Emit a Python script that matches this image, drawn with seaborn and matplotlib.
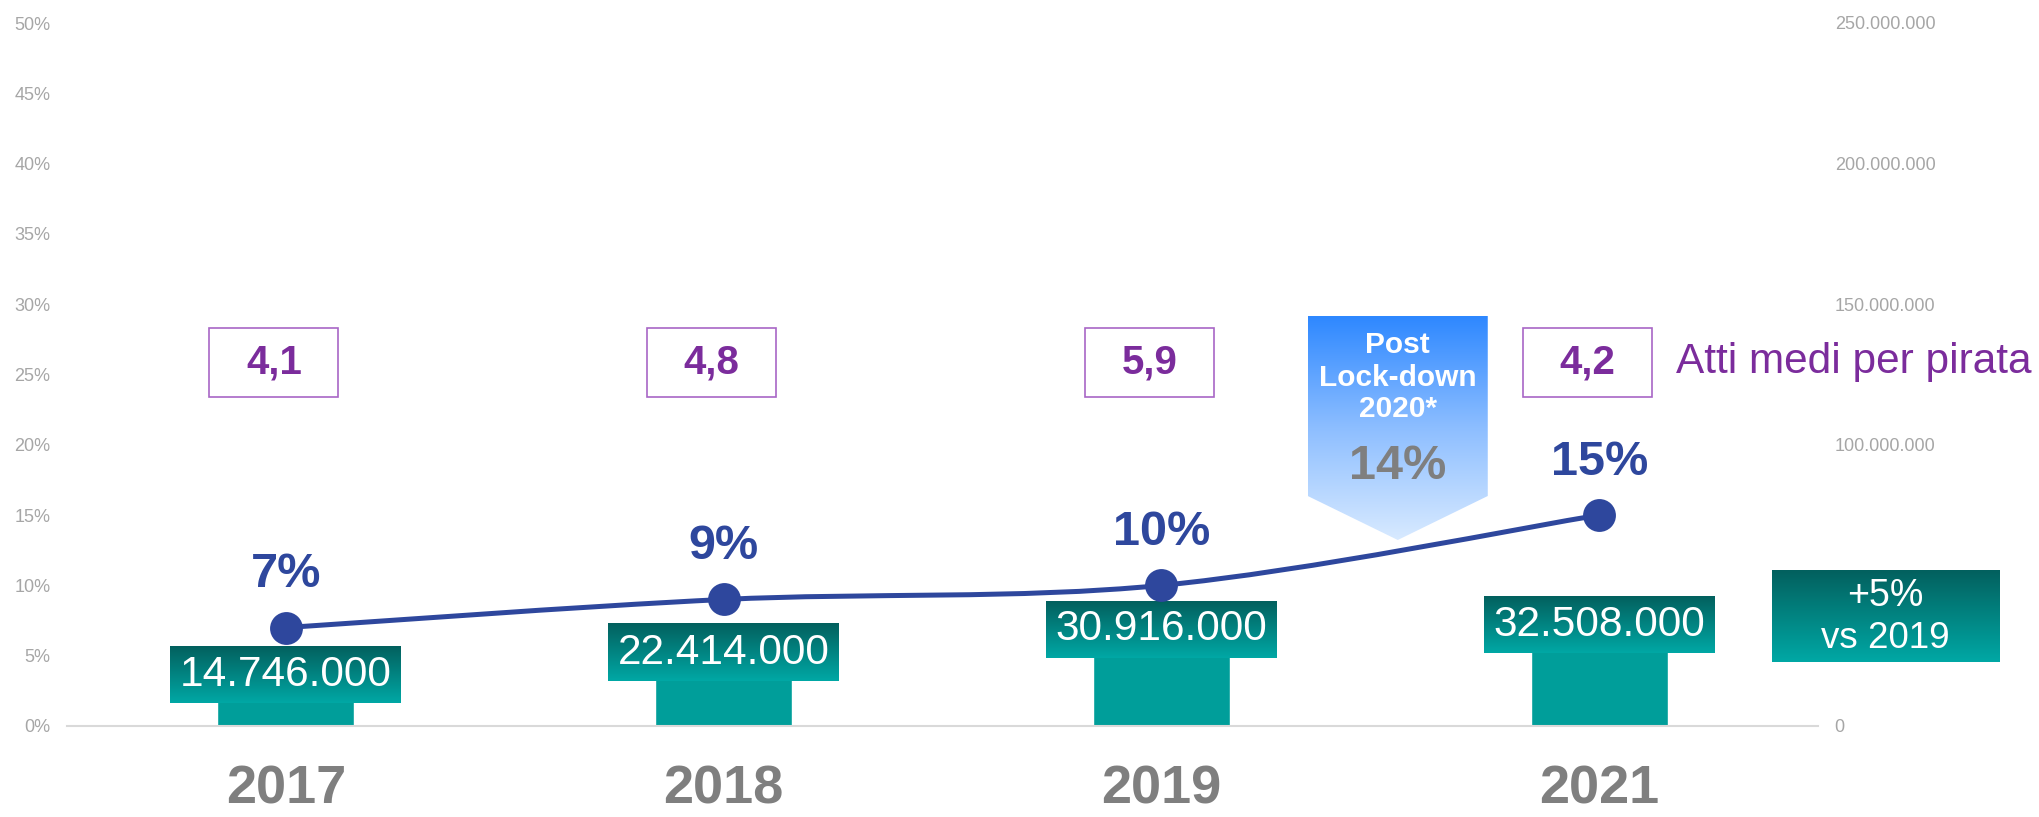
import numpy as np
import pandas as pd
import matplotlib
matplotlib.use("Agg")
import matplotlib.pyplot as plt
import seaborn as sns
from matplotlib.patches import Rectangle, Polygon, PathPatch
from matplotlib.path import Path
from matplotlib.colors import LinearSegmentedColormap
from matplotlib.ticker import FuncFormatter, PercentFormatter

# ---------------- data ----------------
years = ["2017", "2018", "2019", "2021"]
pirated_acts = [14746000, 22414000, 30916000, 32508000]
incidence = [0.07, 0.09, 0.10, 0.15]
acts_per_pirate = ["4,1", "4,8", "5,9", "4,2"]
acts_label = "Atti medi per pirata"
lockdown_lines = ["Post", "Lock-down", "2020*"]
lockdown_value = 0.14
lockdown_pos = 2.54
growth_lines = ["+5%", "vs 2019"]
left_ticks = [0, 0.05, 0.10, 0.15, 0.20, 0.25, 0.30, 0.35, 0.40, 0.45, 0.50]
right_ticks = [0, 100000000, 150000000, 200000000, 250000000]

# ---------------- style ----------------
sns.set_style("white")
plt.rcParams["font.family"] = ["Liberation Sans", "DejaVu Sans"]

TEAL = "#009E9A"
BLUE = "#2E479D"
PURPLE = "#7B2C9C"
PURPLE_EDGE = "#A866C6"
GRAY_TXT = "#7F7F7F"
TICK_GRAY = "#A6A6A6"
teal_cmap = LinearSegmentedColormap.from_list("teal", ["#03605E", "#00A8A5"])
blue_cmap = LinearSegmentedColormap.from_list("blue", ["#2E88FF", "#8DBEFF", "#D8EAFF"])
grad = np.linspace(0, 1, 256).reshape(-1, 1)

W, H = 2040, 817
fig = plt.figure(figsize=(W / 100, H / 100), dpi=100)
L, R, B, T = 67, 1818, 726, 23
ax = fig.add_axes([L / W, 1 - B / H, (R - L) / W, (B - T) / H])
ax2 = ax.twinx()

YMAX_CNT = 250000000
YMAX_PCT = 0.5
px_x = (R - L) / len(years)
px_cnt = (B - T) / YMAX_CNT
px_pct = (B - T) / YMAX_PCT

# ---------------- bars (counts, right axis) ----------------
df = pd.DataFrame({"year": years, "acts": pirated_acts})
sns.barplot(data=df, x="year", y="acts", ax=ax, color=TEAL, width=0.313,
            saturation=1, zorder=2)

# value label boxes with gradient
bw, bh, boff = 231 / px_x, 57 / px_cnt, 10 / px_cnt
for i, v in enumerate(pirated_acts):
    cy = v + boff
    ax.imshow(grad, extent=[i - bw / 2, i + bw / 2, cy - bh / 2, cy + bh / 2],
              aspect="auto", cmap=teal_cmap, zorder=3)
    ax.text(i, cy, f"{v:,}".replace(",", "."), ha="center", va="center",
            color="white", fontsize=30.5, zorder=4)

# ---------------- line (percent, left axis) ----------------
pos = np.arange(len(years), dtype=float)
P = np.column_stack([pos, incidence])
Pext = np.vstack([P[0], P, P[-1]])
verts = [tuple(P[0])]
codes = [Path.MOVETO]
for k in range(len(P) - 1):
    p0, p1, p2, p3 = Pext[k], Pext[k + 1], Pext[k + 2], Pext[k + 3]
    c1 = p1 + (p2 - p0) / 6
    c2 = p2 - (p3 - p1) / 6
    verts += [tuple(c1), tuple(c2), tuple(p2)]
    codes += [Path.CURVE4] * 3
ax2.add_patch(PathPatch(Path(verts, codes), facecolor="none", edgecolor=BLUE,
                        lw=3.6, capstyle="round", zorder=4))
sns.scatterplot(x=pos, y=incidence, ax=ax2, s=560, color=BLUE,
                edgecolor=BLUE, linewidth=0, zorder=5, legend=False)
for i, v in enumerate(incidence):
    ax2.annotate(f"{round(v * 100)}%", (i, v), xytext=(0, 38),
                 textcoords="offset points", ha="center", va="center",
                 fontsize=35, fontweight="bold", color=BLUE, zorder=6)

# ---------------- acts per pirate boxes ----------------
pw, ph = 129 / px_x, 69 / px_pct
pyc = (B - 362) / px_pct
pxo = 12 / px_x
for i, s in enumerate(acts_per_pirate):
    ax2.add_patch(Rectangle((i - pxo - pw / 2, pyc - ph / 2), pw, ph,
                            facecolor="white", edgecolor=PURPLE_EDGE, lw=1.2,
                            zorder=3))
    ax2.text(i - pxo, pyc, s, ha="center", va="center", fontsize=29,
             fontweight="bold", color=PURPLE, zorder=4)
fig.text(1676 / W, 1 - 362 / H, acts_label, ha="left", va="center",
         fontsize=30.5, color=PURPLE)

# ---------------- post lock-down arrow ----------------
hw = 90 / px_x
a_top = (B - 316) / px_pct
a_rb = (B - 496) / px_pct
a_tip = (B - 540) / px_pct
poly = Polygon([(lockdown_pos - hw, a_top), (lockdown_pos + hw, a_top),
                (lockdown_pos + hw, a_rb), (lockdown_pos, a_tip),
                (lockdown_pos - hw, a_rb)], closed=True, facecolor="none",
               edgecolor="none", zorder=2)
ax2.add_patch(poly)
im = ax2.imshow(grad, extent=[lockdown_pos - hw, lockdown_pos + hw, a_tip, a_top],
                aspect="auto", cmap=blue_cmap, zorder=2)
im.set_clip_path(poly)
for txt, ypx in zip(lockdown_lines, [345, 378, 409]):
    ax2.text(lockdown_pos, (B - ypx) / px_pct, txt, ha="center", va="center",
             fontsize=21.5, fontweight="bold", color="white", zorder=3)
ax2.text(lockdown_pos, (B - 466) / px_pct, f"{round(lockdown_value * 100)}%",
         ha="center", va="center", fontsize=35, fontweight="bold",
         color=GRAY_TXT, zorder=3)

# ---------------- +5% box ----------------
gax = fig.add_axes([1772 / W, 1 - 662 / H, 227 / W, 92 / H])
gax.imshow(grad, extent=[0, 1, 0, 1], aspect="auto", cmap=teal_cmap)
gax.set_xlim(0, 1)
gax.set_ylim(0, 1)
gax.axis("off")
gax.text(0.5, 0.72, growth_lines[0], ha="center", va="center", fontsize=27,
         color="white")
gax.text(0.5, 0.25, growth_lines[1], ha="center", va="center", fontsize=26.5,
         color="white")

# ---------------- axes formatting ----------------
ax.set_xlim(-0.5, len(years) - 0.5)
ax.set_ylim(0, YMAX_CNT)
ax2.set_ylim(0, YMAX_PCT)
ax.set_xticks(pos)
ax.set_xticklabels(years, fontsize=39, fontweight="bold", color=GRAY_TXT)
ax.tick_params(axis="x", length=0, pad=28)
ax.set_xlabel("")
ax.set_ylabel("")
ax2.set_ylabel("")

ax.yaxis.tick_right()
ax.set_yticks(right_ticks)
ax.yaxis.set_major_formatter(FuncFormatter(lambda v, p: f"{int(v):,}".replace(",", ".")))
ax.tick_params(axis="y", length=0, pad=12, labelsize=13, labelcolor=TICK_GRAY)

ax2.yaxis.tick_left()
ax2.set_yticks(left_ticks)
ax2.yaxis.set_major_formatter(PercentFormatter(1, decimals=0))
ax2.tick_params(axis="y", length=0, pad=12, labelsize=13, labelcolor=TICK_GRAY)

for a in (ax, ax2):
    for sp in a.spines.values():
        sp.set_visible(False)
ax.spines["bottom"].set_visible(True)
ax.spines["bottom"].set_color("#D9D9D9")
ax.spines["bottom"].set_linewidth(1.5)
ax.grid(False)
ax2.grid(False)

fig.savefig("out.png", dpi=100)
